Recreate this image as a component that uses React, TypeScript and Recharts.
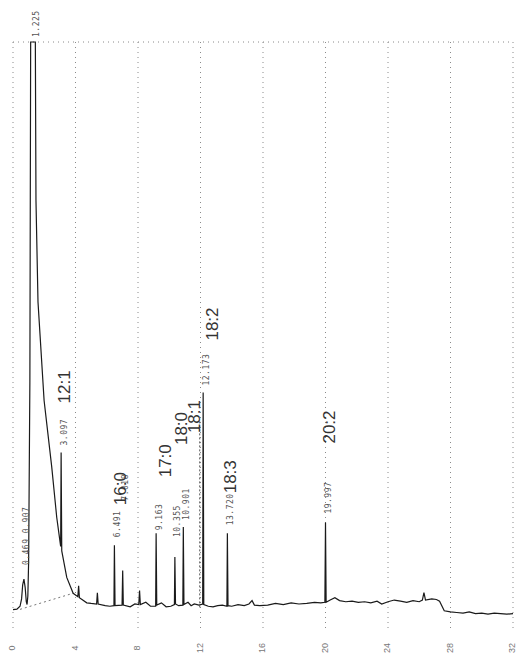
import React from "react";
import {
  ComposedChart,
  Line,
  Scatter,
  XAxis,
  YAxis,
  CartesianGrid,
  ReferenceLine,
} from "recharts";

// ---- data ----
// chromatogram trace: [retention time (min), detector signal]
const traceT = [
  0, 0.25, 0.45, 0.55, 0.62, 0.7, 0.78, 0.85, 0.9, 0.95, 1.0, 1.08, 1.13, 1.43, 1.47, 1.6, 1.99, 2.48, 2.8,
  3.05, 3.08, 3.12, 3.44, 3.85, 4.15, 4.2, 4.25, 4.72, 5.0, 5.35, 5.4, 5.45, 5.9, 6.2, 6.46, 6.49, 6.53,
  6.98, 7.02, 7.06, 7.5, 7.8, 8.05, 8.1, 8.15, 8.5, 8.8, 9.13, 9.16, 9.2, 9.5, 9.8, 10.1, 10.33, 10.36,
  10.4, 10.6, 10.87, 10.9, 10.94, 11.2, 11.4, 11.6, 11.9, 12.14, 12.17, 12.21, 12.5, 12.8, 13.1, 13.4,
  13.69, 13.72, 13.76, 14.0, 14.4, 14.8, 15.1, 15.3, 15.45, 15.8, 16.3, 16.8, 17.3, 17.8, 18.3, 18.8,
  19.3, 19.7, 19.96, 20.0, 20.04, 20.3, 20.6, 20.9, 21.3, 21.7, 22.1, 22.5, 22.9, 23.3, 23.6, 24.0, 24.4,
  24.8, 25.2, 25.6, 26.0, 26.2, 26.3, 26.4, 26.8, 27.1, 27.3, 27.6, 28.0, 28.4, 28.8, 29.2, 29.6, 30.0,
  30.4, 30.8, 31.2, 31.6, 32.0,
];
const traceV = [
  -0.4, -0.3, 0.2, 1.5, 4.0, 5.0, 3.5, 1.0, 0.5, 2.0, 8, 40, 100, 100, 72, 54, 36.6, 24.8, 15.9,
  10.8, 27.4, 10.0, 5.3, 2.5, 1.9, 3.8, 1.7, 0.8, 0.7, 0.6, 2.6, 0.6, 0.3, 0.2, 0.3, 11.0, 0.3,
  0.4, 6.5, 0.4, 0.1, 0.6, 0.5, 3.0, 0.5, 0.9, 0.2, 0.2, 13.1, 0.4, 0.8, 0.1, 0.2, 0.5, 8.9,
  0.6, 0.3, 0.4, 14.2, 0.5, 0.9, 0.3, 0.6, 0.4, 0.6, 38, 0.5, 0.2, 0.1, 0.3, 0.4,
  0.2, 13.1, 0.3, 0.2, 0.5, 0.3, 0.6, 1.2, 0.4, 0.3, 0.4, 0.7, 0.5, 0.8, 0.6, 0.7,
  0.9, 0.8, 0.9, 15.0, 0.9, 1.3, 1.7, 1.2, 1.0, 1.1, 0.9, 1.0, 0.8, 1.1, 0.6, 1.0, 1.3,
  1.1, 0.9, 1.2, 1.0, 1.3, 2.6, 1.3, 1.5, 1.4, 1.1, -0.6, -0.8, -0.9, -1.0, -0.8, -1.1, -1.0,
  -1.2, -1.0, -1.1, -1.2, -1.1,
];

// integration baseline under the solvent tail
const baseT = [0.45, 3.85];
const baseV = [-0.35, 2.5];

// integrated peaks (retention time labels)
const peakTimes = [0.7, 1.28, 3.08, 6.49, 7.02, 9.16, 10.36, 10.9, 12.17, 13.72, 20.0];
const peakHeights = [5.0, 100, 27.4, 11.0, 6.5, 13.1, 8.9, 14.2, 38, 13.1, 15.0];
const peakLabels = ["0.469 0.907", "1.225", "3.097", "6.491", "7.018", "9.163", "10.355", "10.901", "12.173", "13.720", "19.997"];

// fatty acid identification
const compoundNames = ["12:1", "16:0", "17:0", "18:0", "18:1", "18:2", "18:3", "20:2"];
const compoundPeak = [2, 3, 5, 6, 7, 8, 9, 10];

const xTicks = [0, 4, 8, 12, 16, 20, 24, 28, 32];

// ---- layout (pixel offsets for annotation text) ----
const RT_LIFT: Record<string, number> = {
  "0.469 0.907": 14,
  "1.225": 5,
  "3.097": 7,
  "6.491": 8,
  "7.018": 70,
  "9.163": 3,
  "10.355": 20,
  "10.901": 7,
  "12.173": 7,
  "13.720": 8,
  "19.997": 9,
};
const CPD_OFFSET: Record<string, [number, number]> = {
  "12:1": [4, 49],
  "16:0": [7, 40],
  "17:0": [10, 56],
  "18:0": [8, 112],
  "18:1": [12, 94],
  "18:2": [10, 52],
  "18:3": [4, 40],
  "20:2": [5, 79],
};

const traceData = traceT.map((t, i) => ({ t, v: traceV[i] }));
const baseData = baseT.map((t, i) => ({ t, v: baseV[i] }));
const rtData = peakTimes.map((t, i) => ({ t, v: peakHeights[i], text: peakLabels[i] }));
const cpdData = compoundNames.map((name, i) => ({
  t: peakTimes[compoundPeak[i]],
  v: peakHeights[compoundPeak[i]],
  text: name,
}));

const RtLabel = (props: any) => {
  const { cx, cy, payload } = props;
  if (cx == null || cy == null) return <g />;
  const x = cx + 3;
  const y = cy - (RT_LIFT[payload.text] ?? 6);
  return (
    <text
      x={x}
      y={y}
      transform={`rotate(-90 ${x} ${y})`}
      textAnchor="start"
      dominantBaseline="middle"
      fontFamily="'DejaVu Sans Mono', monospace"
      fontSize={8}
      letterSpacing={0.5}
      fill="#555"
    >
      {payload.text}
    </text>
  );
};

const CpdLabel = (props: any) => {
  const { cx, cy, payload } = props;
  if (cx == null || cy == null) return <g />;
  const [dx, lift] = CPD_OFFSET[payload.text] ?? [6, 40];
  const x = cx + dx;
  const y = cy - lift;
  return (
    <text
      x={x}
      y={y}
      transform={`rotate(-90 ${x} ${y})`}
      textAnchor="start"
      dominantBaseline="middle"
      fontFamily="'Liberation Sans', Arial, sans-serif"
      fontSize={17}
      fill="#333"
    >
      {payload.text}
    </text>
  );
};

const XTick = (props: any) => {
  const { x, y, payload } = props;
  const ty = y + 10;
  return (
    <text
      x={x}
      y={ty}
      transform={`rotate(-90 ${x} ${ty})`}
      textAnchor="middle"
      dominantBaseline="middle"
      fontFamily="'Liberation Sans', Arial, sans-serif"
      fontSize={9}
      fill="#777"
    >
      {payload.value}
    </text>
  );
};

export default function App() {
  return (
    <div style={{ position: "absolute", left: 0, top: 0, width: 521, height: 663, background: "#fff" }}>
      <ComposedChart
        width={521}
        height={663}
        margin={{ top: 42, right: 8, bottom: 8, left: 13 }}
      >
        <CartesianGrid
          horizontal={false}
          vertical={true}
          stroke="#8a8a8a"
          strokeDasharray="1 4"
        />
        <XAxis
          dataKey="t"
          type="number"
          domain={[0, 32]}
          ticks={xTicks}
          axisLine={false}
          tickLine={false}
          height={25}
          tick={<XTick />}
          interval={0}
        />
        <YAxis type="number" domain={[-4, 100]} hide />
        <ReferenceLine y={100} stroke="#8a8a8a" strokeDasharray="1 4" />
        <ReferenceLine
          segment={[{ x: 11.95, y: 0 }, { x: 11.95, y: 33 }]}
          stroke="#555"
          strokeDasharray="2 2"
        />
        <Line
          data={baseData}
          dataKey="v"
          type="linear"
          stroke="#777"
          strokeWidth={1}
          strokeDasharray="2 3"
          dot={false}
          activeDot={false}
          isAnimationActive={false}
        />
        <Line
          data={traceData}
          dataKey="v"
          type="linear"
          stroke="#1a1a1a"
          strokeWidth={1.2}
          dot={false}
          activeDot={false}
          isAnimationActive={false}
        />
        <Scatter data={rtData} dataKey="v" shape={<RtLabel />} isAnimationActive={false} />
        <Scatter data={cpdData} dataKey="v" shape={<CpdLabel />} isAnimationActive={false} />
      </ComposedChart>
    </div>
  );
}
